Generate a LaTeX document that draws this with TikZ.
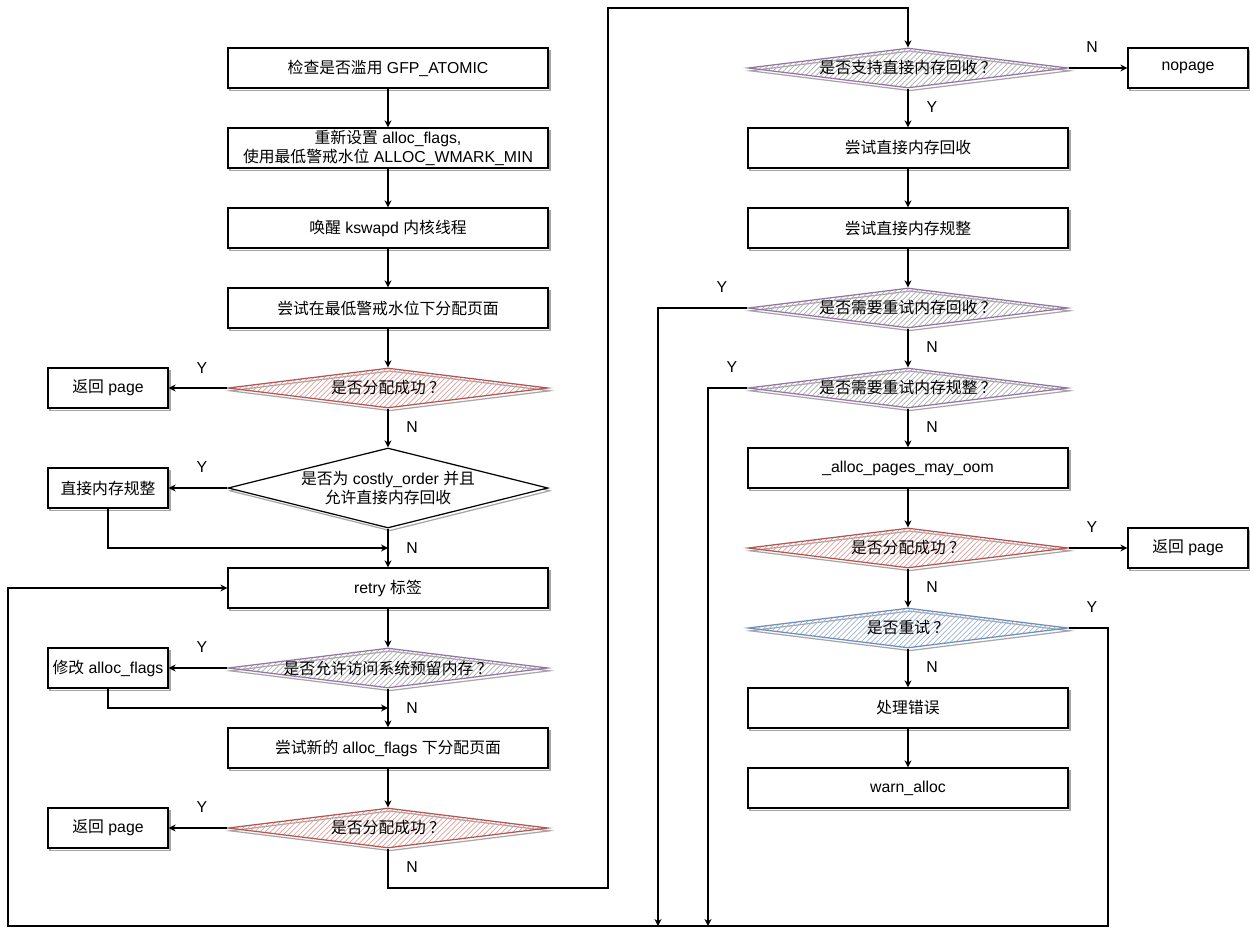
\documentclass[tikz,border=0pt]{standalone}
\usepackage{fontspec}
\setmainfont{Liberation Sans}
\newfontfamily\zh{Noto Sans CJK SC}
\usetikzlibrary{shapes.geometric,patterns,shadows,arrows.meta}
\definecolor{redline}{RGB}{184,84,80}
\definecolor{redhatch}{RGB}{226,160,158}
\definecolor{purpleline}{RGB}{150,115,166}
\definecolor{purplehatch}{RGB}{175,175,175}
\definecolor{blueline}{RGB}{108,142,191}
\definecolor{bluehatch}{RGB}{160,182,212}
\newcommand{\askmark}{\hspace{0.2em}？}

\tikzset{
  every node/.style={font=\fontsize{9}{10.6}\selectfont},
  shade/.style={copy shadow={shadow xshift=1.1pt,shadow yshift=-1.6pt,draw=black!35,fill=white,line width=0.7pt}},
  box/.style={rectangle,draw,fill=white,line width=0.7pt,minimum width=6.4cm,minimum height=0.8cm,align=center,inner sep=1pt,shade},
  smallbox/.style={box,minimum width=2.4cm},
  ask/.style={diamond,draw,line width=0.7pt,minimum width=6.4cm,minimum height=0.8cm,aspect=8,inner xsep=-1.2cm,inner ysep=0pt,align=center,shade},
  redask/.style={ask,draw=redline,pattern=north east lines,pattern color=redhatch},
  purpleask/.style={ask,draw=purpleline,pattern=north east lines,pattern color=purplehatch},
  blueask/.style={ask,draw=blueline,pattern=north east lines,pattern color=bluehatch},
  link/.style={draw,line width=0.7pt,-{Stealth[length=4pt,width=4pt]}},
  tag/.style={font=\fontsize{9}{10}\selectfont}
}

\begin{document}
\begin{tikzpicture}[x=0.02cm,y=-0.02cm]
\useasboundingbox (0,0) rectangle (1250,939);

% left column
\node[box] (check) at (388,68) {{\zh 检查是否滥用} GFP\_ATOMIC};
\node[box] (reset) at (388,148) {{\zh 重新设置} alloc\_flags,\\{\zh 使用最低警戒水位} ALLOC\_WMARK\_MIN};
\node[box] (wake) at (388,228) {{\zh 唤醒} kswapd {\zh 内核线程}};
\node[box] (trymin) at (388,308) {\zh 尝试在最低警戒水位下分配页面};
\node[redask] (okone) at (388,388) {\zh 是否分配成功\askmark};
\node[smallbox] (retone) at (108,388) {{\zh 返回} page};
\node[ask,fill=white,minimum height=1.6cm,aspect=4] (costly) at (388,488) {{\zh 是否为} costly\_order {\zh 并且}\\{\zh 允许直接内存回收}};
\node[smallbox] (compact) at (108,488) {\zh 直接内存规整};
\node[box] (retry) at (388,588) {retry {\zh 标签}};
\node[purpleask] (reserve) at (388,668) {\zh 是否允许访问系统预留内存\askmark};
\node[smallbox] (modify) at (108,668) {{\zh 修改} alloc\_flags};
\node[box] (trynew) at (388,748) {{\zh 尝试新的} alloc\_flags {\zh 下分配页面}};
\node[redask] (oktwo) at (388,828) {\zh 是否分配成功\askmark};
\node[smallbox] (rettwo) at (108,828) {{\zh 返回} page};

% right column
\node[purpleask] (direct) at (908,68) {\zh 是否支持直接内存回收\askmark};
\node[smallbox] (nopage) at (1188,68) {nopage};
\node[box] (reclaim) at (908,148) {\zh 尝试直接内存回收};
\node[box] (compactr) at (908,228) {\zh 尝试直接内存规整};
\node[purpleask] (againrec) at (908,308) {\zh 是否需要重试内存回收\askmark};
\node[purpleask] (againcmp) at (908,388) {\zh 是否需要重试内存规整\askmark};
\node[box] (oom) at (908,468) {\_alloc\_pages\_may\_oom};
\node[redask] (okthree) at (908,548) {\zh 是否分配成功\askmark};
\node[smallbox] (retthree) at (1188,548) {{\zh 返回} page};
\node[blueask] (again) at (908,628) {\zh 是否重试\askmark};
\node[box] (handle) at (908,708) {\zh 处理错误};
\node[box] (warn) at (908,788) {warn\_alloc};

% bends
\coordinate (cmpjoin) at (388,548);
\coordinate (modjoin) at (388,708);
\coordinate (downleft) at (388,888);
\coordinate (downmid) at (608,888);
\coordinate (upmid) at (608,8);
\coordinate (upright) at (908,8);
\coordinate (recbend) at (658,308);
\coordinate (recend) at (658,926);
\coordinate (cmpbend) at (708,388);
\coordinate (cmpend) at (708,926);
\coordinate (againbend) at (1108,628);
\coordinate (againlow) at (1108,926);
\coordinate (baseleft) at (8,926);
\coordinate (retryleft) at (8,588);

% connectors
\draw[link] (check) -- (reset);
\draw[link] (reset) -- (wake);
\draw[link] (wake) -- (trymin);
\draw[link] (trymin) -- (okone);
\draw[link] (okone) -- (retone);
\draw[link] (okone) -- (costly);
\draw[link] (costly) -- (compact);
\draw[link] (costly) -- (retry);
\draw[link] (compact.south) |- (cmpjoin);
\draw[link] (retry) -- (reserve);
\draw[link] (reserve) -- (modify);
\draw[link] (reserve) -- (trynew);
\draw[link] (modify.south) |- (modjoin);
\draw[link] (trynew) -- (oktwo);
\draw[link] (oktwo) -- (rettwo);
\draw[link] (oktwo.south) -- (downleft) -- (downmid) -- (upmid) -- (upright) -- (direct.north);

\draw[link] (direct) -- (nopage);
\draw[link] (direct) -- (reclaim);
\draw[link] (reclaim) -- (compactr);
\draw[link] (compactr) -- (againrec);
\draw[link] (againrec) -- (againcmp);
\draw[link] (againrec.west) -- (recbend) -- (recend);
\draw[link] (againcmp) -- (oom);
\draw[link] (againcmp.west) -- (cmpbend) -- (cmpend);
\draw[link] (oom) -- (okthree);
\draw[link] (okthree) -- (retthree);
\draw[link] (okthree) -- (again);
\draw[link] (again) -- (handle);
\draw[link] (handle) -- (warn);
\draw[link] (again.east) -- (againbend) -- (againlow) -- (baseleft) -- (retryleft) -- (retry.west);

% labels
\node[tag] (yone) at (202,368) {Y};
\node[tag] (none) at (412,427) {N};
\node[tag] (ytwo) at (202,467) {Y};
\node[tag] (ntwo) at (412,548) {N};
\node[tag] (ythree) at (202,647) {Y};
\node[tag] (nthree) at (412,708) {N};
\node[tag] (yfour) at (202,807) {Y};
\node[tag] (nfour) at (412,867) {N};
\node[tag] (nfive) at (1092,47) {N};
\node[tag] (yfive) at (932,107) {Y};
\node[tag] (ysix) at (722,287) {Y};
\node[tag] (nsix) at (932,347) {N};
\node[tag] (yseven) at (732,367) {Y};
\node[tag] (nseven) at (932,427) {N};
\node[tag] (yeight) at (1092,527) {Y};
\node[tag] (neight) at (932,587) {N};
\node[tag] (ynine) at (1092,607) {Y};
\node[tag] (nnine) at (932,667) {N};
\end{tikzpicture}
\end{document}
